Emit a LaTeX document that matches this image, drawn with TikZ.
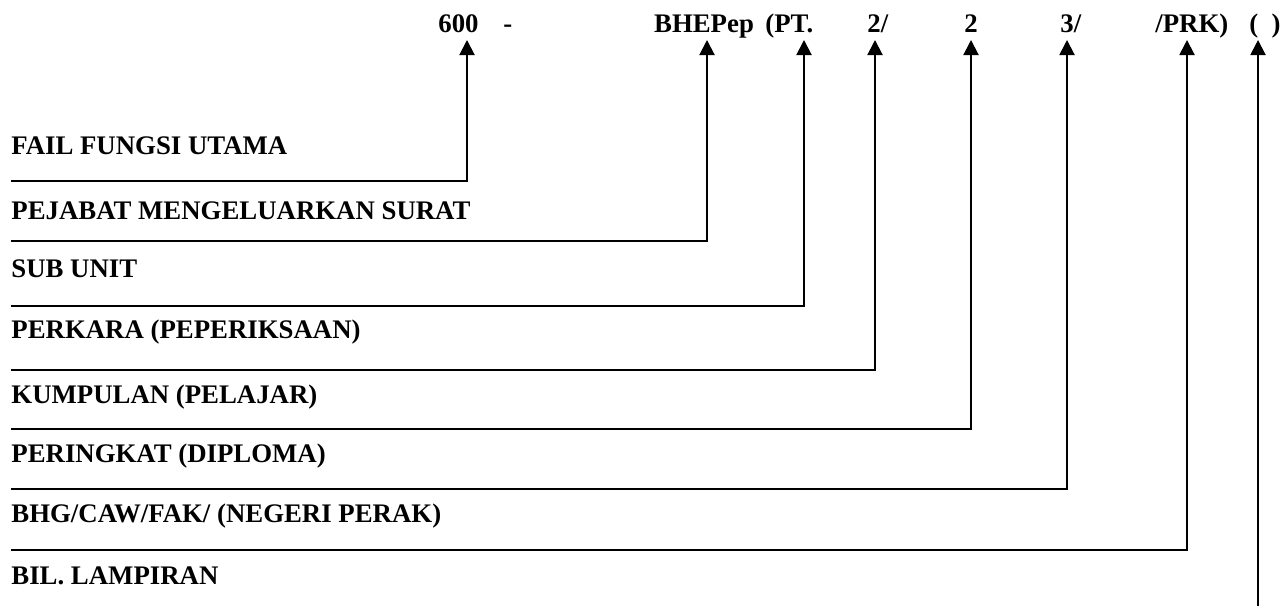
\documentclass[tikz,border=0pt]{standalone}
\usepackage{fontspec}
\setmainfont{Liberation Serif}
\usetikzlibrary{arrows.meta}
\begin{document}
\begin{tikzpicture}[x=0.5pt,y=-0.5pt,
  lbl/.style={anchor=base west,inner sep=0pt,font=\bfseries\fontsize{13.4pt}{15pt}\selectfont},
  conn/.style={line width=1pt,-{Triangle[length=7.5pt,width=7.5pt]}}]
\useasboundingbox (0,0) rectangle (1288,606);
% top code parts
\node[lbl] (c1) at (438,32) {600};
\node[lbl] (c2) at (503,32) {-};
\node[lbl,anchor=base] (c3) at (704,32) {BHEPep};
\node[lbl] (c4) at (765,32) {(PT.};
\node[lbl] (c5) at (867,32) {2/};
\node[lbl] (c6) at (964,32) {2};
\node[lbl] (c7) at (1060,32) {3/};
\node[lbl] (c8) at (1155,32) {/PRK)};
\node[lbl] (c9) at (1249,32) {(\ \ )};
% left labels
\node[lbl] (l1) at (11,154) {FAIL FUNGSI UTAMA};
\node[lbl] (l2) at (11,219) {PEJABAT MENGELUARKAN SURAT};
\node[lbl] (l3) at (11,277) {SUB UNIT};
\node[lbl] (l4) at (11,338) {PERKARA (PEPERIKSAAN)};
\node[lbl] (l5) at (11,403) {KUMPULAN (PELAJAR)};
\node[lbl] (l6) at (11,462) {PERINGKAT (DIPLOMA)};
\node[lbl] (l7) at (11,522) {BHG/CAW/FAK/ (NEGERI PERAK)};
\node[lbl] (l8) at (11,584) {BIL. LAMPIRAN};
% line starts and arrow tips
\coordinate (s1) at (11,181);  \coordinate (a1) at (467,40);
\coordinate (s2) at (11,241);  \coordinate (a2) at (707,40);
\coordinate (s3) at (11,306);  \coordinate (a3) at (804,40);
\coordinate (s4) at (11,370);  \coordinate (a4) at (875,40);
\coordinate (s5) at (11,429);  \coordinate (a5) at (971,40);
\coordinate (s6) at (11,489);  \coordinate (a6) at (1067,40);
\coordinate (s7) at (11,550);  \coordinate (a7) at (1187,40);
\coordinate (s8) at (1258,606); \coordinate (a8) at (1258,40);
\draw[conn] (s1) -| (a1);
\draw[conn] (s2) -| (a2);
\draw[conn] (s3) -| (a3);
\draw[conn] (s4) -| (a4);
\draw[conn] (s5) -| (a5);
\draw[conn] (s6) -| (a6);
\draw[conn] (s7) -| (a7);
\draw[conn] (s8) -- (a8);
\end{tikzpicture}
\end{document}
